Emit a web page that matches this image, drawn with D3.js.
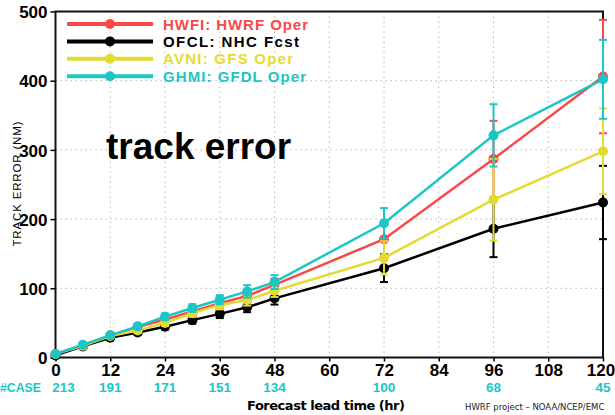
<!DOCTYPE html>
<html>
<head>
<meta charset="utf-8">
<script src="https://cdn.jsdelivr.net/npm/d3@7"></script>
<style>
  html, body { margin: 0; padding: 0; background: #fff; }
  svg { display: block; }
</style>
</head>
<body>
<svg id="chart" width="615" height="415"></svg>
<script>
// Forecast lead times (hr)
const leadTimes = [0, 6, 12, 18, 24, 30, 36, 42, 48, 72, 96, 120];

// Mean track error (NM) per model
const hwfi = [5, 17, 32, 44, 55, 66.5, 78.5, 89, 105, 171, 287, 406];
const ofcl = [3, 16, 28.5, 36, 44.5, 54, 63, 72.5, 85.5, 129, 186, 224];
const avni = [5, 17, 31, 39, 50, 64, 76, 83, 96.5, 144, 228, 298];
const ghmi = [5, 18.5, 32, 45, 59, 71.5, 83.5, 95.5, 109, 194, 321, 402];

// Half-width of the confidence interval (NM)
const hwfiErr = [0.5, 1.5, 2.5, 3.5, 4.5, 5.5, 6.5, 8, 9, 22, 55, 82];
const ofclErr = [0.5, 1.5, 2.5, 3, 4, 5, 6, 7, 9, 20, 41, 53];
const avniErr = [0.5, 1.5, 2.5, 3.5, 4.5, 5.5, 6.5, 8, 9, 24, 59, 62];
const ghmiErr = [0.5, 1.5, 2.5, 3.5, 4.5, 5.5, 6.5, 9, 10, 22, 45, 57];

// Legend labels
const seriesNames = ["HWFI: HWRF Oper", "OFCL: NHC Fcst", "AVNI: GFS Oper", "GHMI: GFDL Oper"];
const seriesColors = ["#f84848", "#000000", "#e4da34", "#1cc6c6"];

// Axis ticks
const xTicks = [0, 12, 24, 36, 48, 60, 72, 84, 96, 108, 120];
const yTicks = [0, 100, 200, 300, 400, 500];

// Number of verifying cases at each labelled lead time
const caseTimes = [0, 12, 24, 36, 48, 72, 96, 120];
const caseCounts = [213, 191, 171, 151, 134, 100, 68, 45];

const series = [
  { name: seriesNames[0], color: seriesColors[0], values: hwfi, err: hwfiErr },
  { name: seriesNames[1], color: seriesColors[1], values: ofcl, err: ofclErr },
  { name: seriesNames[2], color: seriesColors[2], values: avni, err: avniErr },
  { name: seriesNames[3], color: seriesColors[3], values: ghmi, err: ghmiErr }
];

const svg = d3.select("#chart");
const plotL = 55.5, plotR = 603, plotT = 11.5, plotB = 357.5;

const x = d3.scaleLinear().domain([0, 120]).range([plotL, plotR]);
const y = d3.scaleLinear().domain([0, 500]).range([plotB, plotT]);

// Dotted grid
const grid = svg.append("g").attr("stroke", "#b8b8b8").attr("stroke-width", 1)
  .attr("stroke-dasharray", "1.5,3.5");
grid.selectAll("line.v").data(xTicks.filter(d => d > 0 && d < 120)).join("line")
  .attr("class", "v")
  .attr("x1", d => x(d)).attr("x2", d => x(d)).attr("y1", plotT).attr("y2", plotB);
grid.selectAll("line.h").data(yTicks.filter(d => d > 0 && d < 500)).join("line")
  .attr("class", "h")
  .attr("x1", plotL).attr("x2", plotR).attr("y1", d => y(d)).attr("y2", d => y(d));

// Axes
const xAxis = svg.append("g").attr("transform", `translate(0,${plotB})`)
  .call(d3.axisBottom(x).tickValues(xTicks).tickSize(4).tickPadding(2).tickFormat(d3.format("d")));
const yAxis = svg.append("g").attr("transform", `translate(${plotL},0)`)
  .call(d3.axisLeft(y).tickValues(yTicks).tickSize(5).tickPadding(3).tickFormat(d3.format("d")));
[xAxis, yAxis].forEach(a => {
  a.select(".domain").remove();
  a.selectAll(".tick line").attr("stroke", "#000").attr("stroke-width", 1.5);
  a.selectAll(".tick text")
    .attr("font-family", "Liberation Sans, Arial, sans-serif")
    .attr("font-weight", "bold").attr("font-size", 17).attr("fill", "#000");
});
yAxis.selectAll(".tick text").attr("dy", "0.36em");
xAxis.selectAll(".tick text").attr("dy", "0.72em");
// keep the last lead-time label inside the page edge
xAxis.selectAll(".tick text").filter(d => d === 120).attr("dx", -2.5);

// Frame
svg.append("rect").attr("x", plotL).attr("y", plotT)
  .attr("width", plotR - plotL).attr("height", plotB - plotT)
  .attr("fill", "none").attr("stroke", "#111").attr("stroke-width", 2);

// Series: lines, error bars, markers
const line = d3.line().x((d, i) => x(leadTimes[i])).y(d => y(d));
series.forEach(s => {
  const g = svg.append("g");
  g.append("path").datum(s.values).attr("d", line)
    .attr("fill", "none").attr("stroke", s.color).attr("stroke-width", 2.5);
  const bars = g.selectAll("g.eb").data(s.values).join("g").attr("class", "eb");
  bars.append("line")
    .attr("x1", (d, i) => x(leadTimes[i])).attr("x2", (d, i) => x(leadTimes[i]))
    .attr("y1", (d, i) => y(d - s.err[i])).attr("y2", (d, i) => y(d + s.err[i]))
    .attr("stroke", s.color).attr("stroke-width", 2);
  [-1, 1].forEach(sign => {
    bars.append("line")
      .attr("x1", (d, i) => x(leadTimes[i]) - 4).attr("x2", (d, i) => x(leadTimes[i]) + 4)
      .attr("y1", (d, i) => y(d + sign * s.err[i])).attr("y2", (d, i) => y(d + sign * s.err[i]))
      .attr("stroke", s.color).attr("stroke-width", 2);
  });
  g.selectAll("circle").data(s.values).join("circle")
    .attr("cx", (d, i) => x(leadTimes[i])).attr("cy", d => y(d))
    .attr("r", 5).attr("fill", s.color);
});

// Legend
const legendW = [145, 136, 130, 143];
series.forEach((s, i) => {
  const ly = 24 + i * 17.4;
  svg.append("line").attr("x1", 67).attr("x2", 153).attr("y1", ly).attr("y2", ly)
    .attr("stroke", s.color).attr("stroke-width", 4);
  svg.append("circle").attr("cx", 110).attr("cy", ly).attr("r", 5).attr("fill", s.color);
  svg.append("text").attr("x", 163).attr("y", ly + 5.5)
    .attr("font-family", "Liberation Sans, Arial, sans-serif").attr("font-weight", "bold")
    .attr("font-size", 15).attr("fill", s.color)
    .attr("textLength", legendW[i]).attr("lengthAdjust", "spacing")
    .text(s.name);
});

// Big in-plot label
svg.append("text").attr("x", 106).attr("y", 159)
  .attr("font-family", "Liberation Sans, Arial, sans-serif").attr("font-weight", "bold")
  .attr("font-size", 37).attr("fill", "#000").text("track error");

// Y axis title
svg.append("text").attr("transform", "translate(21,184) rotate(-90)")
  .attr("text-anchor", "middle")
  .attr("font-family", "Liberation Sans, Arial, sans-serif").attr("font-size", 11.5)
  .attr("textLength", 125).attr("lengthAdjust", "spacing")
  .text("TRACK ERROR (NM)");

// Case counts row
svg.append("text").attr("x", 0).attr("y", 392)
  .attr("font-family", "Liberation Sans, Arial, sans-serif").attr("font-weight", "bold")
  .attr("font-size", 13).attr("fill", "#1cc6c6")
  .attr("textLength", 41).attr("lengthAdjust", "spacingAndGlyphs").text("#CASE");
svg.selectAll("text.case").data(caseCounts).join("text")
  .attr("class", "case")
  .attr("x", (d, i) => x(caseTimes[i]) + (i === 0 ? 8 : 0)).attr("y", 392)
  .attr("text-anchor", "middle")
  .attr("font-family", "Liberation Sans, Arial, sans-serif").attr("font-weight", "bold")
  .attr("font-size", 13.5).attr("fill", "#1cc6c6").text(d => d);

// X axis title
svg.append("text").attr("x", 326).attr("y", 410).attr("text-anchor", "middle")
  .attr("font-family", "DejaVu Sans, sans-serif").attr("font-weight", "bold")
  .attr("font-size", 13).attr("textLength", 158).attr("lengthAdjust", "spacing")
  .text("Forecast lead time (hr)");

// Credit line
svg.append("text").attr("x", 465).attr("y", 410)
  .attr("font-family", "DejaVu Sans, sans-serif").attr("font-size", 8.5).attr("fill", "#222")
  .text("HWRF project \u2013 NOAA/NCEP/EMC");
</script>
</body>
</html>
